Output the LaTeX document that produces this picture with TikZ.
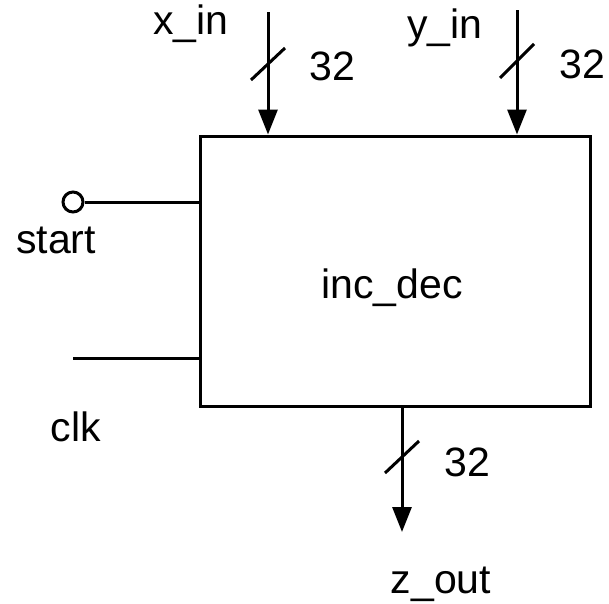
\documentclass[tikz,border=0pt]{standalone}
\usepackage{fontspec}
\setmainfont{Liberation Sans}
\usetikzlibrary{arrows.meta}
\begin{document}
\begin{tikzpicture}[x=1pt,y=-1pt,
  wire/.style={line width=3pt},
  bus/.style={line width=3pt,-{Triangle[length=25pt,width=19pt]}},
  slash/.style={line width=3pt},
  lbl/.style={inner sep=0pt,font=\fontsize{41}{48}\selectfont}]
\useasboundingbox (0,0) rectangle (609,603);
\node[draw,line width=3pt,minimum width=390pt,minimum height=270pt,inner sep=0pt] (box) at (395,271) {};
\node[lbl] (name) at (392,288) {inc\_dec};
% x_in
\coordinate (xin) at (268,12);
\draw[bus] (xin) -- (xin |- box.north);
\coordinate (xs) at (268,64);
\draw[slash] ([shift={(-17,16)}]xs) -- ([shift={(17,-16)}]xs);
\node[lbl] (xinl) at (191,24) {x\_in};
\node[lbl] (x32) at (332,66) {32};
% y_in
\coordinate (yin) at (517,10);
\draw[bus] (yin) -- (yin |- box.north);
\coordinate (ys) at (517,61);
\draw[slash] ([shift={(-17,17)}]ys) -- ([shift={(17,-17)}]ys);
\node[lbl] (yinl) at (445,28) {y\_in};
\node[lbl] (y32) at (582,64) {32};
% start
\node[draw,circle,line width=3pt,minimum size=20pt,inner sep=0pt] (sc) at (73,202) {};
\draw[wire] (sc.east) -- (sc.east -| box.west);
\node[lbl] (startl) at (56,240) {start};
% clk
\coordinate (clk) at (73,358);
\draw[wire] (clk) -- (clk -| box.west);
\node[lbl] (clkl) at (76,427) {clk};
% z_out
\coordinate (zo) at (402,532);
\draw[bus] (zo |- box.south) -- (zo);
\coordinate (zs) at (402,457);
\draw[slash] ([shift={(-17,16)}]zs) -- ([shift={(17,-16)}]zs);
\node[lbl] (z32) at (467,462) {32};
\node[lbl] (zoutl) at (441,584) {z\_out};
\end{tikzpicture}
\end{document}
